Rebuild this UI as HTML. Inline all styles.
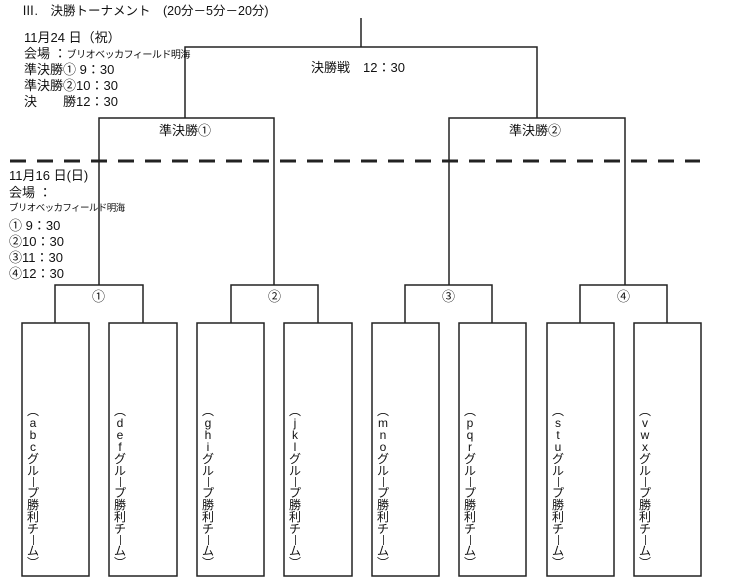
<!DOCTYPE html>
<html><head><meta charset="utf-8"><style>
body{margin:0;background:#fff;width:735px;height:587px;position:relative;overflow:hidden;font-family:"Liberation Sans","Noto Sans CJK JP",sans-serif;color:#111}
.t{position:absolute;white-space:nowrap;line-height:1}
.v{position:absolute;top:405px;height:164px;width:16px;display:flex;flex-direction:column;justify-content:space-between;align-items:center;font-size:12px;line-height:1}
.b{display:block;width:1px;height:10px;background:#444}
</style></head><body>
<svg width="735" height="587" style="position:absolute;left:0;top:0" fill="none" stroke="#222" stroke-width="1.5">
<path d="M361 18V47M185 118V47H537V118M99 285V118H274V285M449 285V118H625V285"/>
<path d="M10 161H700" stroke-width="3" stroke-dasharray="16 11"/>
<path d="M55 323V285H143V323M231 323V285H318V323M405 323V285H492V323M580 323V285H667V323"/>
<rect x="22" y="323" width="67" height="253"/><rect x="109" y="323" width="68" height="253"/>
<rect x="197" y="323" width="67" height="253"/><rect x="284" y="323" width="68" height="253"/>
<rect x="372" y="323" width="67" height="253"/><rect x="459" y="323" width="67" height="253"/>
<rect x="547" y="323" width="67" height="253"/><rect x="634" y="323" width="67" height="253"/>
</svg>
<div class="t" style="left:22px;top:5px;font-size:12.5px">Ⅲ.　決勝トーナメント　(20分－5分－20分)</div>
<div class="t" style="left:24px;top:31px;font-size:13px">11月24 日（祝）</div>
<div class="t" style="left:24px;top:47px;font-size:13px">会場 ：<span style="font-size:10px;letter-spacing:-0.5px">ブリオベッカフィールド明海</span></div>
<div class="t" style="left:24px;top:63px;font-size:13px">準決勝①  9：30</div>
<div class="t" style="left:24px;top:79px;font-size:13px">準決勝②10：30</div>
<div class="t" style="left:24px;top:95px;font-size:13px">決　　勝12：30</div>
<div class="t" style="left:311px;top:61px;font-size:13px">決勝戦　12：30</div>
<div class="t" style="left:159px;top:124px;font-size:13px">準決勝①</div>
<div class="t" style="left:509px;top:124px;font-size:13px">準決勝②</div>
<div class="t" style="left:9px;top:169px;font-size:13px">11月16 日(日)</div>
<div class="t" style="left:9px;top:186px;font-size:13px">会場 ：</div>
<div class="t" style="left:9px;top:204px;font-size:9.5px;letter-spacing:-0.6px">ブリオベッカフィールド明海</div>
<div class="t" style="left:9px;top:219px;font-size:13px">①  9：30</div>
<div class="t" style="left:9px;top:235px;font-size:13px">②10：30</div>
<div class="t" style="left:9px;top:251px;font-size:13px">③11：30</div>
<div class="t" style="left:9px;top:267px;font-size:13px">④12：30</div>
<div class="t" style="left:92px;top:290px;font-size:13px">①</div>
<div class="t" style="left:268px;top:290px;font-size:13px">②</div>
<div class="t" style="left:442px;top:290px;font-size:13px">③</div>
<div class="t" style="left:617px;top:290px;font-size:13px">④</div>
<div class="v" style="left:25px"><span>︵</span><span>a</span><span>b</span><span>c</span><span>グ</span><span>ル</span><i class="b"></i><span>プ</span><span>勝</span><span>利</span><span>チ</span><i class="b"></i><span>ム</span><span>︶</span></div>
<div class="v" style="left:112px"><span>︵</span><span>d</span><span>e</span><span>f</span><span>グ</span><span>ル</span><i class="b"></i><span>プ</span><span>勝</span><span>利</span><span>チ</span><i class="b"></i><span>ム</span><span>︶</span></div>
<div class="v" style="left:200px"><span>︵</span><span>g</span><span>h</span><span>i</span><span>グ</span><span>ル</span><i class="b"></i><span>プ</span><span>勝</span><span>利</span><span>チ</span><i class="b"></i><span>ム</span><span>︶</span></div>
<div class="v" style="left:287px"><span>︵</span><span>j</span><span>k</span><span>l</span><span>グ</span><span>ル</span><i class="b"></i><span>プ</span><span>勝</span><span>利</span><span>チ</span><i class="b"></i><span>ム</span><span>︶</span></div>
<div class="v" style="left:375px"><span>︵</span><span>m</span><span>n</span><span>o</span><span>グ</span><span>ル</span><i class="b"></i><span>プ</span><span>勝</span><span>利</span><span>チ</span><i class="b"></i><span>ム</span><span>︶</span></div>
<div class="v" style="left:462px"><span>︵</span><span>p</span><span>q</span><span>r</span><span>グ</span><span>ル</span><i class="b"></i><span>プ</span><span>勝</span><span>利</span><span>チ</span><i class="b"></i><span>ム</span><span>︶</span></div>
<div class="v" style="left:550px"><span>︵</span><span>s</span><span>t</span><span>u</span><span>グ</span><span>ル</span><i class="b"></i><span>プ</span><span>勝</span><span>利</span><span>チ</span><i class="b"></i><span>ム</span><span>︶</span></div>
<div class="v" style="left:637px"><span>︵</span><span>v</span><span>w</span><span>x</span><span>グ</span><span>ル</span><i class="b"></i><span>プ</span><span>勝</span><span>利</span><span>チ</span><i class="b"></i><span>ム</span><span>︶</span></div>
</body></html>
